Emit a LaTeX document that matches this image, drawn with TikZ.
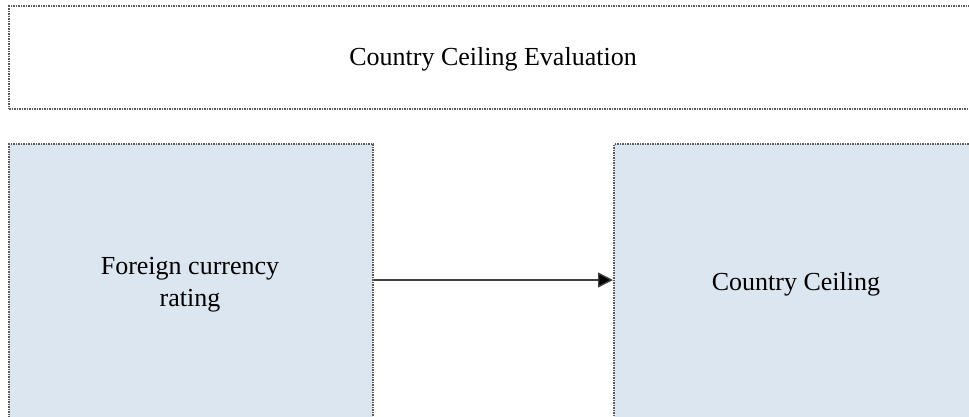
\documentclass[tikz,border=0pt]{standalone}
\usepackage{fontspec}
\setmainfont{Liberation Serif}
\usetikzlibrary{arrows.meta}
\definecolor{boxblue}{HTML}{DCE6F0}
\definecolor{edgegray}{HTML}{5A5A5A}
\tikzset{
  frame/.style={draw=edgegray, line width=2.2pt, dash pattern=on 1.5pt off 1pt, rectangle, anchor=north west, inner sep=0pt},
  whitebox/.style={frame, fill=white},
  bluebox/.style={frame, fill=boxblue},
  label/.style={font=\fontsize{26}{32}\selectfont, align=center, inner sep=0pt},
  conn/.style={draw=black!75, line width=1.4pt, -{Triangle[length=15pt,width=15pt,fill=black]}}
}
\begin{document}
\begin{tikzpicture}[x=1pt,y=1pt]
\useasboundingbox (0,0) rectangle (969,-416);
\fill[white] (0,0) rectangle (969,-416);
\clip (0,0) rectangle (969,-416);
\node[whitebox, minimum width=970pt, minimum height=103pt] (top) at (8,-5) {};
\node[label] (toptext) at (493,-59) {Country Ceiling Evaluation};
\node[bluebox, minimum width=364pt, minimum height=280pt] (left) at (8,-143) {};
\node[bluebox, minimum width=366pt, minimum height=280pt] (right) at (613,-143) {};
\node[label] (lefttext) at (190,-285) {Foreign currency\\rating};
\node[label] (righttext) at (796,-284) {Country Ceiling};
\coordinate (a1) at (left.east |- 0,-280);
\coordinate (a2) at (right.west |- 0,-280);
\draw[conn] (a1) -- (a2);
\end{tikzpicture}
\end{document}
